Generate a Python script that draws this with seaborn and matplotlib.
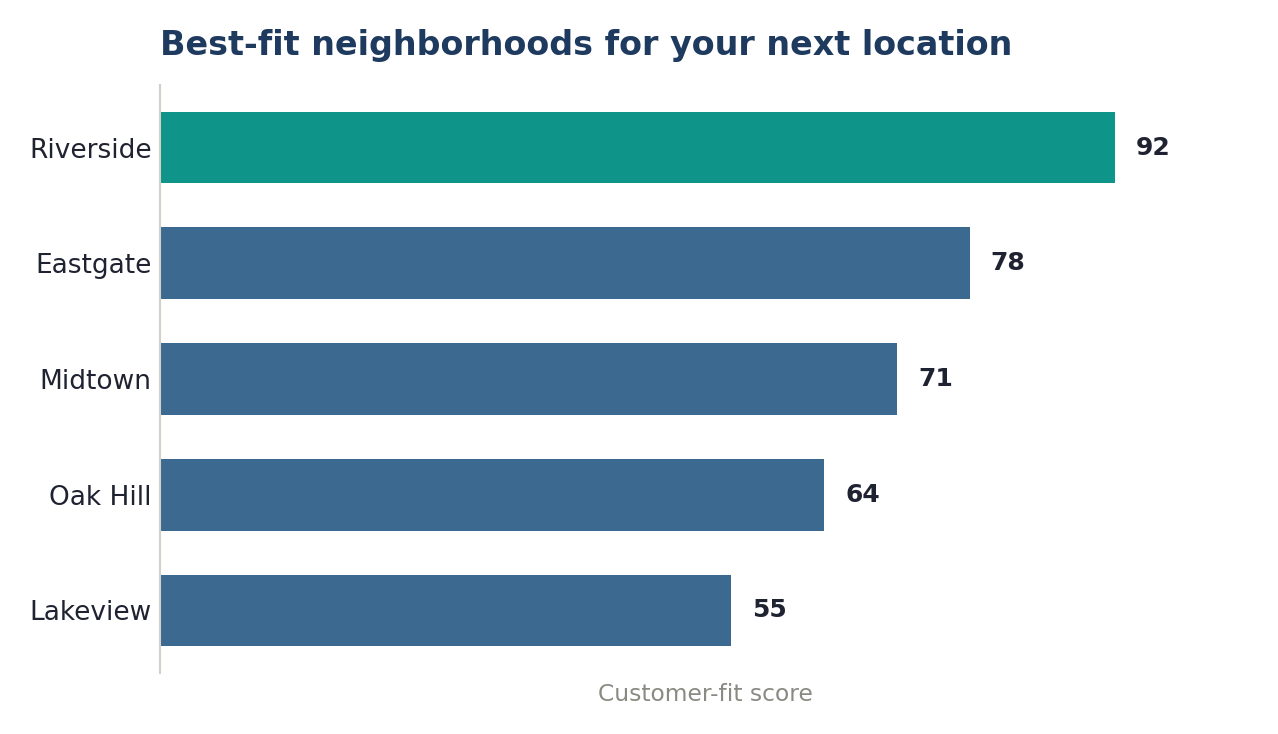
import matplotlib
matplotlib.use("Agg")
import matplotlib.pyplot as plt
import seaborn as sns
import pandas as pd

neighborhoods = ["Riverside", "Eastgate", "Midtown", "Oak Hill", "Lakeview"]
scores = [92, 78, 71, 64, 55]
title = "Best-fit neighborhoods for your next location"
xlabel = "Customer-fit score"

sns.set_theme(style="white")
plt.rcParams['font.family'] = ['DejaVu Sans']

df = pd.DataFrame({"neighborhood": neighborhoods, "score": scores})
palette = {n: ("#0e9488" if i == 0 else "#3c698f") for i, n in enumerate(neighborhoods)}

fig = plt.figure(figsize=(12.78, 7.34), dpi=100)
ax = fig.add_axes([160/1278, 1-673/734, 1090/1278, 588/734])
sns.barplot(data=df, x="score", y="neighborhood", hue="neighborhood", palette=palette,
            order=neighborhoods, width=0.62, legend=False, ax=ax, saturation=1,
            linewidth=0)

ax.set_xlim(0, 105)
ax.set_ylim(4.54, -0.54)
for sp in ["top", "right", "bottom"]:
    ax.spines[sp].set_visible(False)
ax.spines["left"].set_color("#d3d0c8")
ax.spines["left"].set_linewidth(1.5)
ax.set_xticks([])
ax.set_ylabel("")
ax.tick_params(axis="y", length=0, pad=6, labelsize=19, labelcolor="#1f2230")
ax.set_xlabel(xlabel, fontsize=16.8, color="#8a8a82", labelpad=7)

for i, v in enumerate(scores):
    ax.annotate(f"{v}", xy=(v, i), xytext=(21, 0), textcoords="offset pixels",
                va="center", ha="left", fontsize=18, fontweight="bold", color="#1f2230")

fig.text(160/1278, 1-45/734, title, fontsize=24, fontweight="bold", color="#1e3a5f",
         ha="left", va="center")

fig.savefig("out.png", dpi=100)
